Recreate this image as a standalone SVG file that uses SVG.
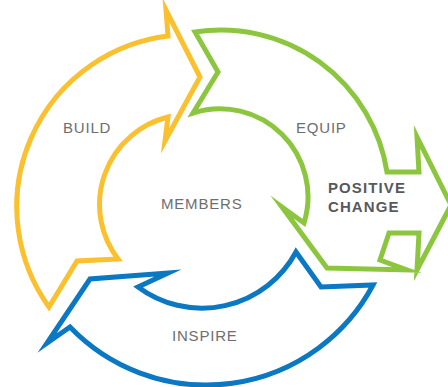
<svg xmlns="http://www.w3.org/2000/svg" width="448" height="387" viewBox="0 0 448 387">
  <style>
    .ring { fill: none; stroke-width: 5; stroke-linejoin: miter; stroke-miterlimit: 10; }
    .build { stroke: #FBC02D; }
    .equip { stroke: #8CC63F; }
    .inspire { stroke: #0A78C2; }
    .lbl { font-family: "Liberation Sans", Arial, sans-serif; font-size: 15px; fill: #6D6E71; letter-spacing: 0.8px; }
    .goal { font-family: "Liberation Sans", Arial, sans-serif; font-size: 15px; font-weight: bold; fill: #58595B; letter-spacing: 1.1px; }
  </style>
  <rect width="448" height="387" fill="#ffffff"/>

  <!-- cycle arrows -->
  <g id="connectors">
    <path id="arrow-build" class="ring build"
          d="M49,307 A172,172 0 0 1 168,36 L166,10 L200,77 L165,141 L168,117 A90,90 0 0 0 118,259 L77,261 Z"/>
    <path id="arrow-equip" class="ring equip"
          d="M195,32 A168,168 0 0 1 387,172 L419,172 L417,137 L451,205 L417,270 L419,233 L389,233 L380,260 L407,270 L327,268 L282,207 L304,223 A88,88 0 0 0 193,113 L218,72 Z"/>
    <path id="arrow-inspire" class="ring inspire"
          d="M373,285 A189,189 0 0 1 70,327 L47,343 L90,279 L168,273 L138,287 A107,107 0 0 0 296,252 L321,287 Z"/>
  </g>

  <g id="build"><text class="lbl" x="63" y="133">BUILD</text></g>
  <g id="equip"><text class="lbl" x="296" y="133">EQUIP</text></g>
  <g id="members"><text class="lbl" x="161" y="209">MEMBERS</text></g>
  <g id="inspire"><text class="lbl" x="172" y="341">INSPIRE</text></g>
  <g id="positive-change">
    <text class="goal" x="328" y="193">POSITIVE</text>
    <text class="goal" x="328" y="212">CHANGE</text>
  </g>
</svg>
